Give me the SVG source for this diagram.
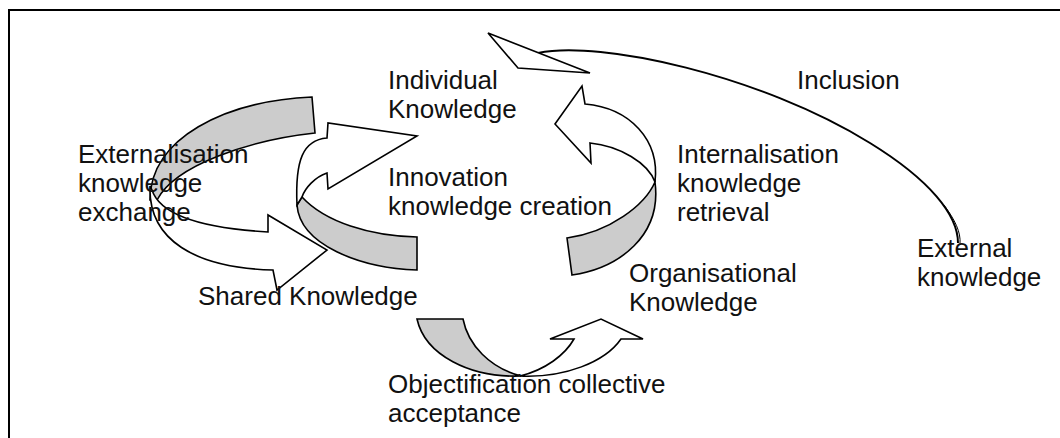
<svg xmlns="http://www.w3.org/2000/svg" width="1060" height="438" viewBox="0 0 1060 438">
<style>
.band{stroke:#000;stroke-width:1.6;stroke-linejoin:miter}
.g{fill:#cccccc}
.w{fill:#ffffff}
text{font-family:"Liberation Sans",Arial,sans-serif;font-size:26px;fill:#111}
</style>
<rect x="9" y="10" width="1100" height="500" fill="#fff" stroke="#000" stroke-width="2"/>
<g id="externalisation-arrow">
<path class="band g" d="M312,97 C225,101 150,138 150,200 L157,200 C175,165 250,140 315,133 Z"/>
<path class="band w" d="M150,186 C148,240 195,268 273,270 L277,290 L327,250 L268,215 L268,232 C200,228 160,215 152,190 Z"/>
</g>
<g id="innovation-arrow">
<path class="band g" d="M302,197 C325,222 370,236 417,237 L417,270 C360,268 300,245 297,205 Z"/>
<path class="band w" d="M297,205 C295,160 303,140 327,138 L328,123 L417,136 L328,189 L327,173 C315,177 305,188 302,197 Z"/>
</g>
<g id="internalisation-arrow">
<path class="band g" d="M655,182 C645,205 610,232 567,238 L572,275 C620,268 662,235 655,182 Z"/>
<path class="band w" d="M655,182 C660,140 630,108 585,104 L582,86 L555,124 L591,163 L590,143 C620,146 648,163 655,182 Z"/>
</g>
<g id="objectification-arrow">
<path class="band g" d="M417,319 L463,319 C468,345 490,368 521,376 C470,378 425,355 417,319 Z"/>
<path class="band w" d="M520,376 C565,378 605,362 621,339 L643,339 L601,319 L550,339 L574,339 C565,355 545,370 520,376 Z"/>
</g>
<g id="connectors">
<path d="M538,53 C600,40 760,75 870,143 C930,180 958,215 958,243" fill="none" stroke="#000" stroke-width="2"/>
<path d="M944,205 C955,220 961,232 960,244" fill="none" stroke="#000" stroke-width="1"/>
<polygon points="488,33 590,73 518,68" fill="#fff" stroke="#000" stroke-width="1.6"/>
</g>
<g id="labels">
<text x="388" y="89">Individual</text>
<text x="388" y="118">Knowledge</text>
<text x="797" y="89">Inclusion</text>
<text x="78" y="163">Externalisation</text>
<text x="78" y="192">knowledge</text>
<text x="78" y="221">exchange</text>
<text x="388" y="186">Innovation</text>
<text x="388" y="215">knowledge creation</text>
<text x="677" y="163">Internalisation</text>
<text x="677" y="192">knowledge</text>
<text x="677" y="221">retrieval</text>
<text x="917" y="257">External</text>
<text x="917" y="286">knowledge</text>
<text x="629" y="282">Organisational</text>
<text x="629" y="311">Knowledge</text>
<text x="198" y="305">Shared Knowledge</text>
<text x="388" y="393">Objectification collective</text>
<text x="388" y="422">acceptance</text>
</g>
</svg>
